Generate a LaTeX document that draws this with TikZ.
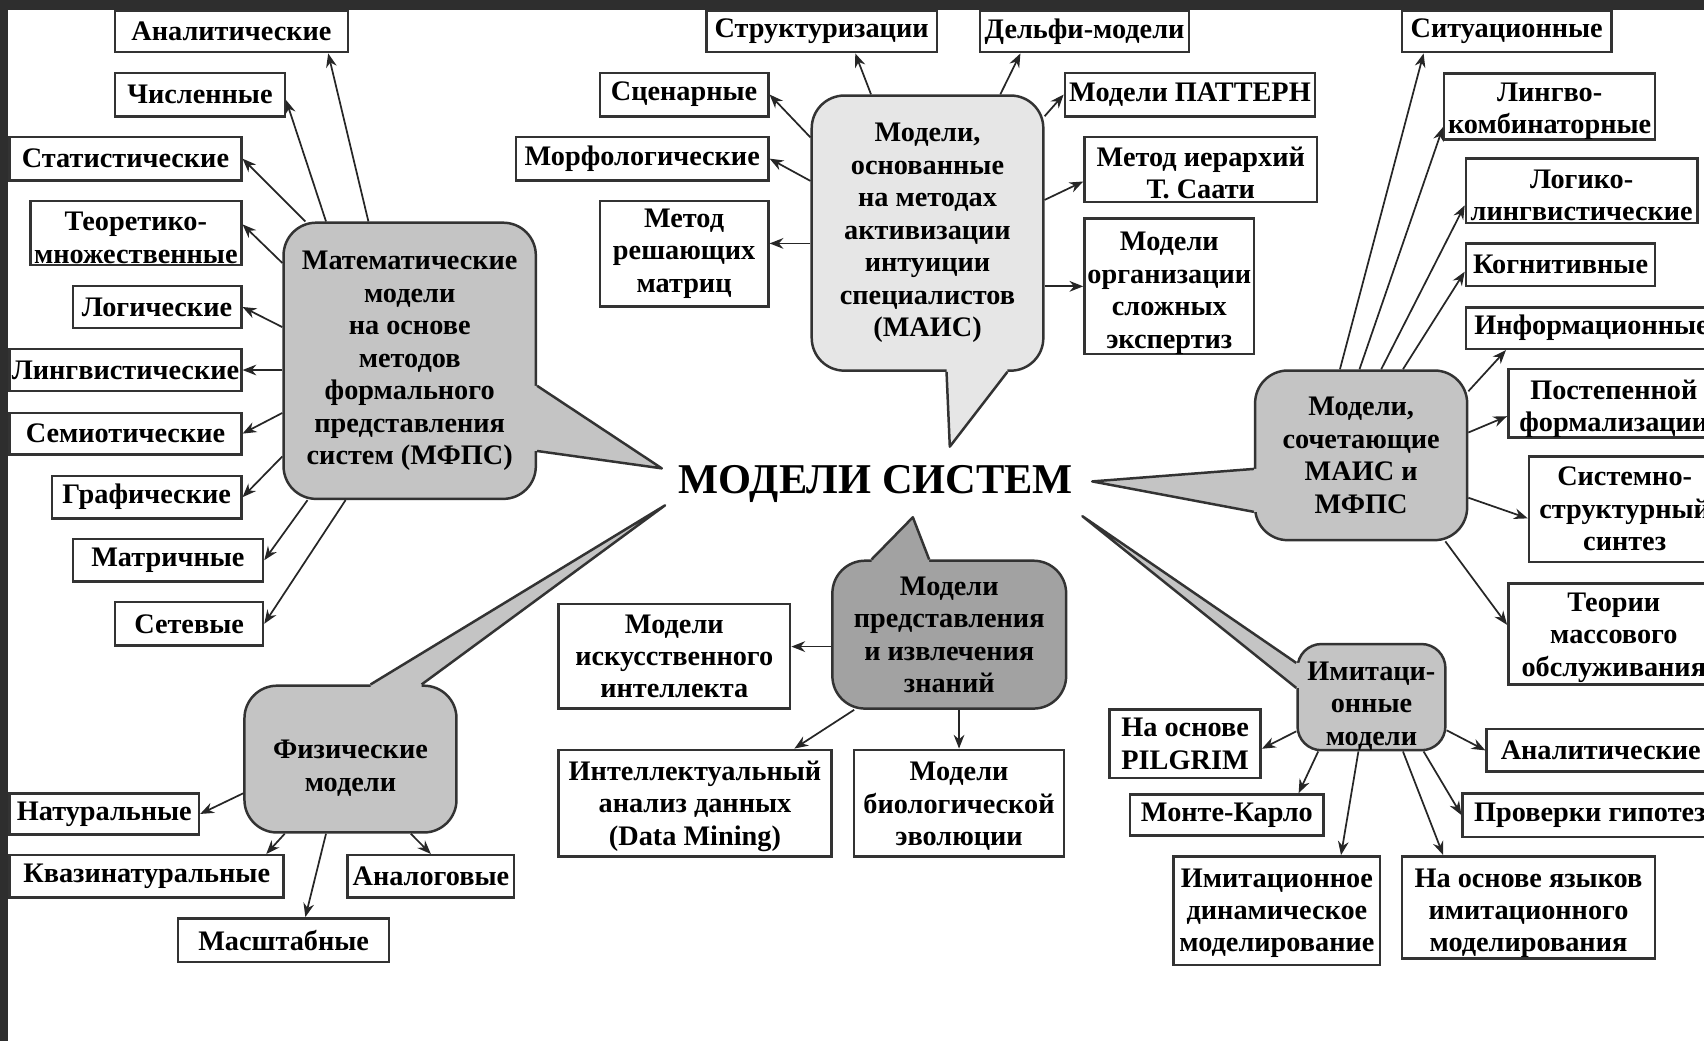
\documentclass[tikz,border=0pt]{standalone}
\usepackage{fontspec}
\setmainfont{Liberation Serif}
\usetikzlibrary{arrows.meta}

\definecolor{frame}{HTML}{2E2E2E}
\definecolor{grayA}{HTML}{C4C4C4}
\definecolor{grayB}{HTML}{E6E6E6}
\definecolor{grayC}{HTML}{A2A2A2}

\begin{document}
\begin{tikzpicture}[x=0.01cm,y=-0.01cm,
    box/.style={draw=black!80,line width=0.65pt,fill=white,inner sep=0pt,align=center,
      font=\bfseries\fontsize{7.4}{8.5}\selectfont},
    bubble/.style={box,rounded corners=0.3cm},
    tail/.style={draw=black!80,line width=0.65pt,line join=round},
    arr/.style={-{Stealth[length=3.6pt,width=2.8pt]},line width=0.45pt,draw=black!85}]
  \useasboundingbox (0,0) rectangle (1568,958);
  \clip (0,0) rectangle (1568,958);
  \fill[white] (0,0) rectangle (1568,958);

  \node[font=\bfseries\fontsize{11.1}{13}\selectfont] (title) at (806,445) {МОДЕЛИ СИСТЕМ};

  \node[bubble,fill=grayA,minimum width=2.32cm,minimum height=2.54cm] (mfps) at (377,332)
    {Математические\\модели\\на основе\\методов\\формального\\представления\\систем (МФПС)};
  \node[bubble,fill=grayB,minimum width=2.13cm,minimum height=2.53cm] (mais) at (853.5,214.5)
    {Модели,\\основанные\\на методах\\активизации\\интуиции\\специалистов\\(МАИС)};
  \node[bubble,fill=grayA,minimum width=1.95cm,minimum height=1.56cm] (comb) at (1252.5,419)
    {Модели,\\сочетающие\\МАИС и\\МФПС};
  \node[bubble,fill=grayA,minimum width=1.95cm,minimum height=1.35cm] (phys) at (322.5,698.5)
    {\rule{0pt}{9.6pt}Физические\\модели};
  \node[bubble,fill=grayC,minimum width=2.15cm,minimum height=1.36cm] (know) at (873.5,584)
    {Модели\\представления\\и извлечения\\знаний};
  \node[bubble,rounded corners=0.22cm,fill=grayA,minimum width=1.36cm,minimum height=0.97cm] (imit) at (1262,641.5)
    {\rule{0pt}{9.5pt}Имитаци-\\онные\\модели};

  \coordinate (mfpsA) at ([shift={(0,23)}]mfps.east);
  \coordinate (mfpsB) at ([shift={(0,83)}]mfps.east);
  \coordinate (mfpsT) at (609,431);
  \fill[grayA] ([xshift=-2pt]mfpsA) -- (mfpsA) -- (mfpsT) -- (mfpsB) -- ([xshift=-2pt]mfpsB) -- cycle;
  \draw[tail] (mfpsA) -- (mfpsT) -- (mfpsB);

  \coordinate (maisA) at ([shift={(17.5,0)}]mais.south);
  \coordinate (maisB) at ([shift={(73.5,0)}]mais.south);
  \coordinate (maisT) at (874,411);
  \fill[grayB] ([yshift=2pt]maisA) -- (maisA) -- (maisT) -- (maisB) -- ([yshift=2pt]maisB) -- cycle;
  \draw[tail] (maisA) -- (maisT) -- (maisB);

  \coordinate (combA) at ([shift={(0,12.5)}]comb.west);
  \coordinate (combB) at ([shift={(0,52)}]comb.west);
  \coordinate (combT) at (1005,443);
  \fill[grayA] ([xshift=2pt]combA) -- (combA) -- (combT) -- (combB) -- ([xshift=2pt]combB) -- cycle;
  \draw[tail] (combA) -- (combT) -- (combB);

  \coordinate (physA) at ([shift={(18.5,0)}]phys.north);
  \coordinate (physB) at ([shift={(65.5,0)}]phys.north);
  \coordinate (physT) at (612,465);
  \fill[grayA] ([yshift=-2pt]physA) -- (physA) -- (physT) -- (physB) -- ([yshift=-2pt]physB) -- cycle;
  \draw[tail] (physA) -- (physT) -- (physB);

  \coordinate (knowA) at ([shift={(-71.5,0)}]know.north);
  \coordinate (knowB) at ([shift={(-18.5,0)}]know.north);
  \coordinate (knowT) at (840,476);
  \fill[grayC] ([yshift=-2pt]knowA) -- (knowA) -- (knowT) -- (knowB) -- ([yshift=-2pt]knowB) -- cycle;
  \draw[tail] (knowA) -- (knowT) -- (knowB);

  \coordinate (imitA) at ([shift={(0,-31.5)}]imit.west);
  \coordinate (imitB) at ([shift={(0,-8.5)}]imit.west);
  \coordinate (imitT) at (996,475);
  \fill[grayA] ([xshift=2pt]imitA) -- (imitA) -- (imitT) -- (imitB) -- ([xshift=2pt]imitB) -- cycle;
  \draw[tail] (imitA) -- (imitT) -- (imitB);

  \node[box,minimum width=2.14cm,minimum height=0.38cm] (anA) at (213,29) {Аналитические};
  \node[box,minimum width=1.56cm,minimum height=0.40cm] (chisl) at (184,87) {Численные};
  \node[box,minimum width=2.13cm,minimum height=0.40cm] (stat) at (115.5,146) {Статистические};
  \node[box,minimum width=1.94cm,minimum height=0.59cm] (teor) at (125,214.5) {\rule{0pt}{7.3pt}Теоретико-\\множественные};
  \node[box,minimum width=1.55cm,minimum height=0.39cm] (logic) at (144.5,282.5) {Логические};
  \node[box,minimum width=2.13cm,minimum height=0.39cm] (ling) at (115.5,340.5) {Лингвистические};
  \node[box,minimum width=2.13cm,minimum height=0.38cm] (semi) at (115.5,399) {Семиотические};
  \node[box,minimum width=1.74cm,minimum height=0.39cm] (graf) at (135,457.5) {Графические};
  \node[box,minimum width=1.75cm,minimum height=0.39cm] (matr) at (154.5,515.5) {Матричные};
  \node[box,minimum width=1.36cm,minimum height=0.40cm] (set) at (174,574) {Сетевые};

  \node[box,minimum width=2.12cm,minimum height=0.38cm] (strukt) at (756,29) {Структуризации};
  \node[box,minimum width=1.92cm,minimum height=0.38cm] (delfi) at (998,29) {Дельфи-модели};
  \node[box,minimum width=1.55cm,minimum height=0.40cm] (scen) at (629.5,87) {Сценарные};
  \node[box,minimum width=2.30cm,minimum height=0.40cm] (pattern) at (1095,87) {Модели ПАТТЕРН};
  \node[box,minimum width=2.32cm,minimum height=0.40cm] (morf) at (591,146) {Морфологические};
  \node[box,minimum width=2.14cm,minimum height=0.60cm] (saati) at (1105,156) {\rule{0pt}{7pt}Метод иерархий\\Т. Саати};
  \node[box,minimum width=1.55cm,minimum height=0.97cm] (matric) at (629.5,233.5) {Метод\\решающих\\матриц};
  \node[box,minimum width=1.56cm,minimum height=1.17cm] (expert) at (1076,263.5) {\rule{0pt}{8.4pt}Модели\\организации\\сложных\\экспертиз};

  \node[box,minimum width=1.93cm,minimum height=0.38cm] (sit) at (1386.5,29) {Ситуационные};
  \node[box,minimum width=1.94cm,minimum height=0.58cm] (lingkomb) at (1426,98) {\rule{0pt}{7.3pt}Лингво-\\комбинаторные};
  \node[box,minimum width=2.13cm,minimum height=0.59cm] (loglin) at (1455.5,175.5) {\rule{0pt}{7.3pt}Логико-\\лингвистические};
  \node[box,minimum width=1.74cm,minimum height=0.39cm] (kogn) at (1436,243.5) {Когнитивные};
  \node[box,minimum width=2.31cm,minimum height=0.38cm] (inform) at (1464.5,302) {Информационные};
  \node[box,minimum width=1.94cm,minimum height=0.58cm] (postep) at (1485,371) {\rule{0pt}{7.9pt}Постепенной\\формализации};
  \node[box,minimum width=1.76cm,minimum height=0.97cm] (sistem) at (1495,468.5) {Системно-\\структурный\\синтез};
  \node[box,minimum width=1.94cm,minimum height=0.93cm] (teorii) at (1485,583.5) {\rule{0pt}{6.7pt}Теории\\массового\\обслуживания};

  \node[box,minimum width=1.74cm,minimum height=0.38cm] (natur) at (96,749) {Натуральные};
  \node[box,minimum width=2.52cm,minimum height=0.39cm] (kvazi) at (135,806.5) {Квазинатуральные};
  \node[box,minimum width=1.53cm,minimum height=0.39cm] (analog) at (396.5,806.5) {Аналоговые};
  \node[box,minimum width=1.94cm,minimum height=0.40cm] (masht) at (261,865) {Масштабные};

  \node[box,minimum width=2.13cm,minimum height=0.96cm] (ii) at (620.5,604) {Модели\\искусственного\\интеллекта};
  \node[box,minimum width=2.51cm,minimum height=0.98cm] (dm) at (639.5,739) {\rule{0pt}{6.7pt}Интеллектуальный\\анализ данных\\(Data Mining)};
  \node[box,minimum width=1.93cm,minimum height=0.98cm] (bio) at (882.5,739) {\rule{0pt}{6.7pt}Модели\\биологической\\эволюции};

  \node[box,minimum width=1.39cm,minimum height=0.63cm] (pilgrim) at (1090.5,684.5) {На основе\\PILGRIM};
  \node[box,minimum width=2.10cm,minimum height=0.39cm] (analit) at (1473,690.5) {Аналитические};
  \node[box,minimum width=1.78cm,minimum height=0.38cm] (monte) at (1129,750) {Монте-Карло};
  \node[box,minimum width=2.34cm,minimum height=0.40cm] (prov) at (1463,750) {Проверки гипотез};
  \node[box,minimum width=1.90cm,minimum height=1.00cm] (dinam) at (1175,838) {\rule{0pt}{6.2pt}Имитационное\\динамическое\\моделирование};
  \node[box,minimum width=2.33cm,minimum height=0.94cm] (yazyk) at (1406.5,835) {\rule{0pt}{7.9pt}На основе языков\\имитационного\\моделирования};

  \draw[arr] ([shift={(-38,0)}]mfps.north) -- ([shift={(89,0)}]anA.south);
  \draw[arr] ([shift={(-77,0)}]mfps.north) -- ([shift={(0,5)}]chisl.east);
  \draw[arr] ([shift={(-96,0)}]mfps.north) -- (stat.east);
  \draw[arr] ([shift={(0,-90)}]mfps.west) -- ([shift={(0,-8)}]teor.east);
  \draw[arr] ([shift={(0,-31)}]mfps.west) -- (logic.east);
  \draw[arr] ([shift={(0,8.5)}]mfps.west) -- (ling.east);
  \draw[arr] ([shift={(0,48)}]mfps.west) -- (semi.east);
  \draw[arr] ([shift={(0,88)}]mfps.west) -- (graf.east);
  \draw[arr] ([shift={(-94,0)}]mfps.south) -- (matr.east);
  \draw[arr] ([shift={(-59,0)}]mfps.south) -- (set.east);

  \draw[arr] ([shift={(-52,0)}]mais.north) -- ([shift={(31,0)}]strukt.south);
  \draw[arr] ([shift={(67,0)}]mais.north) -- ([shift={(-59,0)}]delfi.south);
  \draw[arr] ([shift={(0,-88)}]mais.west) -- (scen.east);
  \draw[arr] ([shift={(0,-48)}]mais.west) -- (morf.east);
  \draw[arr] ([shift={(0,9.5)}]mais.west) -- ([shift={(0,-9.5)}]matric.east);
  \draw[arr] ([shift={(0,-107.5)}]mais.east) -- (pattern.west);
  \draw[arr] ([shift={(0,-30.5)}]mais.east) -- ([shift={(0,11)}]saati.west);
  \draw[arr] ([shift={(0,49)}]mais.east) -- (expert.west);

  \draw[arr] ([shift={(-19.5,0)}]comb.north) -- ([shift={(-76.5,0)}]sit.south);
  \draw[arr] ([shift={(-1.5,0)}]comb.north) -- ([shift={(0,19)}]lingkomb.west);
  \draw[arr] ([shift={(18.5,0)}]comb.north) -- ([shift={(0,13.5)}]loglin.west);
  \draw[arr] ([shift={(38.5,0)}]comb.north) -- ([shift={(0,6.5)}]kogn.west);
  \draw[arr] ([shift={(0,-59)}]comb.east) -- ([shift={(38,0)}]inform.south west);
  \draw[arr] ([shift={(0,-21)}]comb.east) -- ([shift={(0,12)}]postep.west);
  \draw[arr] ([shift={(0,39)}]comb.east) -- ([shift={(0,8.5)}]sistem.west);
  \draw[arr] ([shift={(77.5,0)}]comb.south) -- ([shift={(0,-8.5)}]teorii.west);

  \draw[arr] ([shift={(0,31.5)}]phys.west) -- (natur.east);
  \draw[arr] ([shift={(-60.5,0)}]phys.south) -- ([shift={(110,0)}]kvazi.north);
  \draw[arr] ([shift={(-22.5,0)}]phys.south) -- ([shift={(20,0)}]masht.north);
  \draw[arr] ([shift={(55.5,0)}]phys.south) -- (analog.north);

  \draw[arr] ([shift={(0,11)}]know.west) -- ([shift={(0,-9)}]ii.east);
  \draw[arr] ([shift={(-87.5,0)}]know.south) -- ([shift={(91.5,0)}]dm.north);
  \draw[arr] (know.south -| bio.north) -- (bio.north);

  \draw[arr] ([shift={(0,31.5)}]imit.west) -- ([shift={(0,4.5)}]pilgrim.east);
  \draw[arr] ([shift={(0,30.5)}]imit.east) -- (analit.west);
  \draw[arr] ([shift={(-49,0)}]imit.south) -- ([shift={(66,0)}]monte.north);
  \draw[arr] ([shift={(48,0)}]imit.south) -- (prov.west);
  \draw[arr] ([shift={(-12,0)}]imit.south) -- ([shift={(59,0)}]dinam.north);
  \draw[arr] ([shift={(29,0)}]imit.south) -- ([shift={(-78.5,0)}]yazyk.north);

  \fill[frame] (0,0) rectangle (1568,9);
  \fill[frame] (0,0) rectangle (7,958);
\end{tikzpicture}
\end{document}
